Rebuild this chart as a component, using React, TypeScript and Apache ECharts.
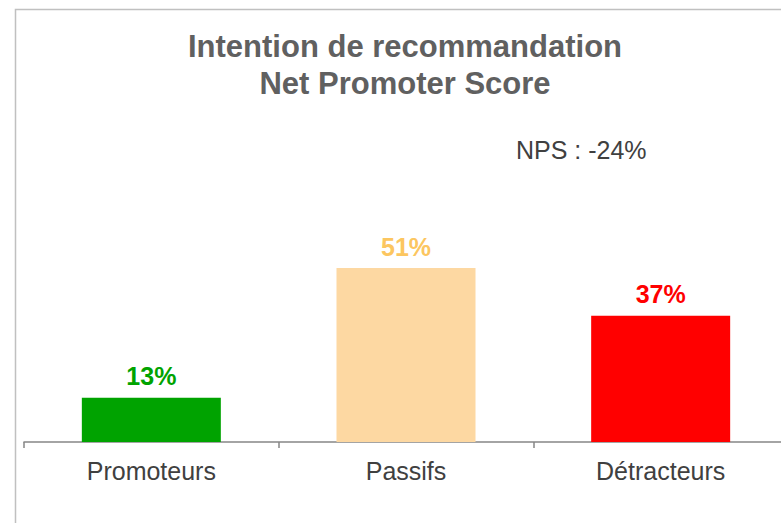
import React, { useEffect, useRef } from "react";
import * as echarts from "echarts";

const categories = ["Promoteurs", "Passifs", "Détracteurs"];
const values = [13, 51, 37];
const barColors = ["#00A300", "#FDD8A2", "#FF0000"];
const labelColors = ["#00A300", "#FCC660", "#FF0000"];
const titleLines = ["Intention de recommandation", "Net Promoter Score"];
const npsText = "NPS : -24%";

export default function App() {
  const ref = useRef<HTMLDivElement>(null);
  useEffect(() => {
    if (!ref.current) return;
    const chart = echarts.init(ref.current, undefined, { renderer: "svg" });
    const font = "'Liberation Sans', Arial, sans-serif";
    chart.setOption({
      animation: false,
      backgroundColor: "#ffffff",
      title: [
        {
          text: titleLines.join("\n"),
          left: 405,
          top: 28,
          padding: 0,
          textAlign: "center",
          textStyle: {
            fontFamily: font,
            fontSize: 31,
            fontWeight: "bold",
            color: "#606060",
            lineHeight: 37,
          },
        },
        {
          text: npsText,
          left: 516,
          top: 137,
          padding: 0,
          textStyle: {
            fontFamily: font,
            fontSize: 25,
            fontWeight: "normal",
            color: "#404040",
            lineHeight: 25,
          },
        },
      ],
      graphic: [
        {
          type: "rect",
          shape: { x: 15.5, y: 9.5, width: 1000, height: 1000 },
          style: { fill: "none", stroke: "#C0C0C0", lineWidth: 1.5 },
          silent: true,
        },
      ],
      grid: {
        left: 24,
        width: 764,
        top: 101,
        bottom: 81,
        containLabel: false,
        outerBoundsMode: "none",
      },
      xAxis: {
        type: "category",
        data: categories,
        axisLine: { lineStyle: { color: "#868686", width: 1.5 } },
        axisTick: { show: true, length: 6, lineStyle: { color: "#868686", width: 1.5 } },
        axisLabel: {
          margin: 16,
          fontFamily: font,
          fontSize: 25,
          color: "#404040",
          lineHeight: 25,
        },
      },
      yAxis: {
        type: "value",
        min: 0,
        max: 100,
        show: false,
        splitLine: { show: false },
      },
      series: [
        {
          type: "bar",
          barWidth: 139,
          data: values.map((v, i) => ({
            value: v,
            itemStyle: { color: barColors[i] },
            label: { color: labelColors[i] },
          })),
          label: {
            show: true,
            position: "top",
            distance: 9,
            formatter: "{c}%",
            fontFamily: font,
            fontSize: 25,
            fontWeight: "bold",
          },
        },
      ],
    });
    return () => chart.dispose();
  }, []);
  return (
    <div
      ref={ref}
      style={{ position: "absolute", left: 0, top: 0, width: 781, height: 523 }}
    />
  );
}
